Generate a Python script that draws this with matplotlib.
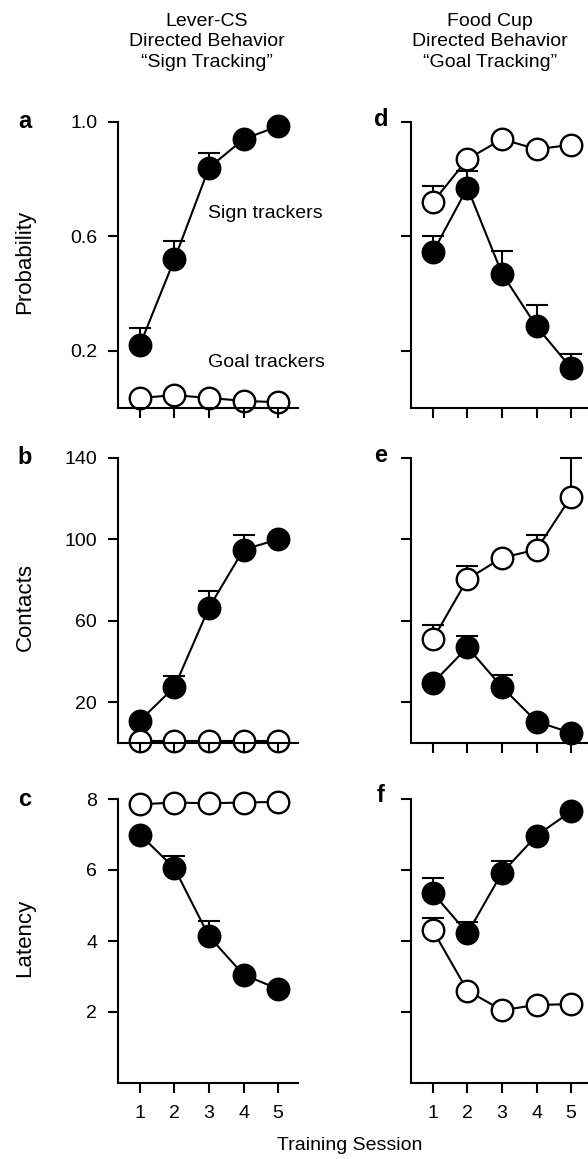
import matplotlib.pyplot as plt

plt.rcParams['font.family'] = ['Liberation Sans', 'DejaVu Sans']
plt.rcParams['font.size'] = 14

sessions = [1, 2, 3, 4, 5]

# probability (row a / d)
prob_st_lever = [0.22, 0.52, 0.84, 0.94, 0.985]
prob_st_lever_err = [0.06, 0.065, 0.05, 0.0, 0.0]
prob_gt_lever = [0.035, 0.045, 0.035, 0.025, 0.02]
prob_gt_lever_err = [0.0, 0.0, 0.0, 0.0, 0.0]
prob_st_cup = [0.545, 0.77, 0.47, 0.285, 0.14]
prob_st_cup_err = [0.055, 0.06, 0.08, 0.075, 0.05]
prob_gt_cup = [0.72, 0.87, 0.94, 0.905, 0.92]
prob_gt_cup_err = [0.055, 0.0, 0.0, 0.0, 0.0]

# contacts (row b / e)
cont_st_lever = [11, 27.5, 66.5, 95, 100]
cont_st_lever_err = [0, 5.5, 8, 7, 0]
cont_gt_lever = [1, 1, 1, 1, 1]
cont_gt_lever_err = [0, 0, 0, 0, 0]
cont_st_cup = [29.5, 47, 27.5, 10.5, 5]
cont_st_cup_err = [0, 5.5, 6, 0, 0]
cont_gt_cup = [51, 80.5, 91, 95, 121]
cont_gt_cup_err = [7, 6.5, 0, 7, 19]

# latency (row c / f)
lat_st_lever = [7.0, 6.05, 4.13, 3.05, 2.65]
lat_st_lever_err = [0, 0.35, 0.42, 0, 0]
lat_gt_lever = [7.85, 7.9, 7.88, 7.9, 7.92]
lat_gt_lever_err = [0, 0, 0, 0, 0]
lat_st_cup = [5.35, 4.22, 5.92, 6.97, 7.65]
lat_st_cup_err = [0.42, 0.31, 0.33, 0, 0]
lat_gt_cup = [4.3, 2.6, 2.05, 2.2, 2.22]
lat_gt_cup_err = [0.35, 0, 0, 0, 0]

rows = [
    ('a', 'd', 'Probability', (0, 1.0), [0.2, 0.6, 1.0], ['0.2', '0.6', '1.0'],
     (prob_st_lever, prob_st_lever_err, prob_gt_lever, prob_gt_lever_err),
     (prob_st_cup, prob_st_cup_err, prob_gt_cup, prob_gt_cup_err)),
    ('b', 'e', 'Contacts', (0, 140), [20, 60, 100, 140], ['20', '60', '100', '140'],
     (cont_st_lever, cont_st_lever_err, cont_gt_lever, cont_gt_lever_err),
     (cont_st_cup, cont_st_cup_err, cont_gt_cup, cont_gt_cup_err)),
    ('c', 'f', 'Latency', (0, 8), [2, 4, 6, 8], ['2', '4', '6', '8'],
     (lat_st_lever, lat_st_lever_err, lat_gt_lever, lat_gt_lever_err),
     (lat_st_cup, lat_st_cup_err, lat_gt_cup, lat_gt_cup_err)),
]

W, H = 588, 1159
fig = plt.figure(figsize=(W / 100, H / 100), dpi=100)

# axes boxes in pixels: (top, bottom), and where the y label sits
row_px = [(122, 408), (458, 743), (799, 1083)]
ylab_px = [262, 607, 938]
col_px = [118, 411]
ax_w = 180


def draw_series(ax, y, err, filled):
    face = 'black' if filled else 'white'
    ax.errorbar(sessions, y, yerr=[[0] * len(err), err], fmt='none',
                ecolor='black', elinewidth=1.5, capsize=8, capthick=1.5,
                zorder=2, clip_on=False)
    ax.plot(sessions, y, '-o', color='black', lw=1.5, ms=15.5,
            mfc=face, mec='black', mew=1.7, zorder=2.2, clip_on=False)


for r, (la, lb, ylab, ylim, yt, ytl, left, right) in enumerate(rows):
    top, bot = row_px[r]
    for c, data in enumerate([left, right]):
        x0 = col_px[c]
        ax = fig.add_axes([x0 / W, 1 - bot / H, ax_w / W, (bot - top) / H])
        st, st_err, gt, gt_err = data
        draw_series(ax, st, st_err, True)
        draw_series(ax, gt, gt_err, False)
        ax.set_xlim(0.366, 5.576)
        ax.set_ylim(*ylim)
        ax.set_yticks(yt)
        ax.set_xticks(sessions)
        ax.spines['top'].set_visible(False)
        ax.spines['right'].set_visible(False)
        ax.spines['left'].set_linewidth(1.5)
        ax.spines['bottom'].set_linewidth(1.5)
        ax.set_axisbelow(False)
        ax.tick_params(direction='out', length=7, width=1.5, labelsize=14)
        ax.tick_params(axis='y', pad=8)
        ax.tick_params(axis='x', pad=9)
        if c == 0:
            ax.set_yticklabels(ytl)
        else:
            ax.set_yticklabels([])
        if r < 2:
            ax.set_xticklabels([])
        if c == 0 and r == 0:
            ax.text(2.96, 0.68, 'Sign trackers', fontsize=14, va='center')
            ax.text(2.96, 0.16, 'Goal trackers', fontsize=14, va='center')

    fig.text(25 / W, 1 - top / H, la, fontsize=17, fontweight='bold',
             ha='center', va='center')
    fig.text(381 / W, 1 - (top - 3) / H, lb, fontsize=17, fontweight='bold',
             ha='center', va='center')
    fig.text(25 / W, 1 - ylab_px[r] / H, ylab, fontsize=16,
             rotation=90, ha='center', va='center')

fig.text(207 / W, 1 - 42 / H, 'Lever-CS\nDirected Behavior\n\u201cSign Tracking\u201d',
         ha='center', va='center', fontsize=14, linespacing=1.25)
fig.text(490 / W, 1 - 42 / H, 'Food Cup\nDirected Behavior\n\u201cGoal Tracking\u201d',
         ha='center', va='center', fontsize=14, linespacing=1.25)
fig.text(350 / W, 1 - 1145 / H, 'Training Session', ha='center', va='center',
         fontsize=14)

fig.savefig('out.png', dpi=100)
